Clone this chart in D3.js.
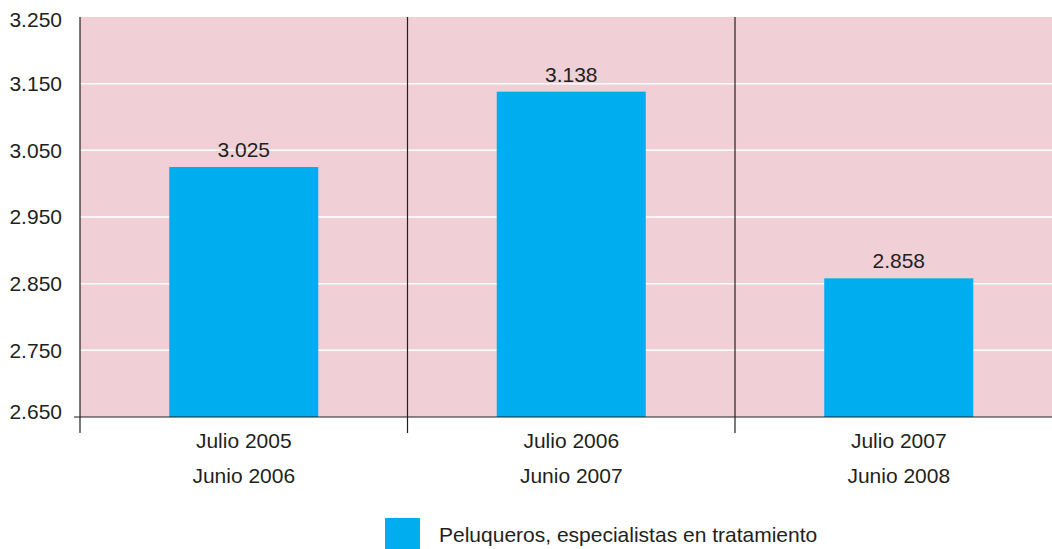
<!DOCTYPE html>
<html>
<head>
<meta charset="utf-8">
<script src="https://cdn.jsdelivr.net/npm/d3@7"></script>
<style>
  html, body { margin: 0; padding: 0; background: #fff; }
  svg { display: block; font-family: "Liberation Sans", Arial, Helvetica, sans-serif; }
</style>
</head>
<body>
<svg id="chart" width="1052" height="549"></svg>
<script>
// Periods (two-line labels) and values
const periodTop = ["Julio 2005", "Julio 2006", "Julio 2007"];
const periodBottom = ["Junio 2006", "Junio 2007", "Junio 2008"];
const values = [3025, 3138, 2858];
const yTicks = [2650, 2750, 2850, 2950, 3050, 3150, 3250];
const seriesName = "Peluqueros, especialistas en tratamiento";

(function () {
  const svg = d3.select("#chart");
  const plotLeft = 80, plotTop = 17, plotBottom = 417, bandStep = 327.5;
  const plotRight = plotLeft + bandStep * periodTop.length;
  const fontSize = 21;

  const es = d3.formatLocale({ decimal: ",", thousands: ".", grouping: [3], currency: ["", "€"] });
  const fmt = es.format(",.0f");

  const x = d3.scaleBand().domain(periodTop).range([plotLeft, plotRight]).padding(0);
  const y = d3.scaleLinear().domain([2650, 3250]).range([plotBottom, plotTop]);

  const ink = "#231f20";

  // plot background
  svg.append("rect")
    .attr("x", plotLeft).attr("y", plotTop)
    .attr("width", plotRight - plotLeft).attr("height", plotBottom - plotTop)
    .attr("fill", "#f0d0d6");

  // horizontal gridlines
  svg.append("g").selectAll("line")
    .data(yTicks.filter(t => t > 2650 && t < 3250))
    .join("line")
    .attr("x1", plotLeft).attr("x2", plotRight)
    .attr("y1", d => y(d)).attr("y2", d => y(d))
    .attr("stroke", "#fff").attr("stroke-width", 1.5);

  // bars
  const barW = x.bandwidth() * 0.455;
  svg.append("g").selectAll("rect")
    .data(values)
    .join("rect")
    .attr("x", (d, i) => x(periodTop[i]) + (x.bandwidth() - barW) / 2)
    .attr("y", d => y(d))
    .attr("width", barW)
    .attr("height", d => y(2650) - y(d))
    .attr("fill", "#00aeef");

  // value labels
  svg.append("g").selectAll("text")
    .data(values)
    .join("text")
    .attr("x", (d, i) => x(periodTop[i]) + x.bandwidth() / 2)
    .attr("y", d => y(d) - 10)
    .attr("text-anchor", "middle")
    .attr("font-size", fontSize)
    .attr("fill", ink)
    .text(d => fmt(d));

  // vertical dividers between periods
  svg.append("g").selectAll("line")
    .data(periodTop.slice(1))
    .join("line")
    .attr("x1", d => x(d)).attr("x2", d => x(d))
    .attr("y1", plotTop).attr("y2", plotBottom + 16)
    .attr("stroke", ink).attr("stroke-width", 1.2);

  // left axis line and lower tick
  svg.append("line")
    .attr("x1", plotLeft).attr("x2", plotLeft)
    .attr("y1", plotTop).attr("y2", plotBottom + 16)
    .attr("stroke", ink).attr("stroke-width", 1.2);

  // baseline
  svg.append("line")
    .attr("x1", plotLeft - 6).attr("x2", plotRight)
    .attr("y1", plotBottom).attr("y2", plotBottom)
    .attr("stroke", ink).attr("stroke-width", 1.2);

  // y tick labels (end labels kept inside the plot's vertical extent)
  svg.append("g").selectAll("text")
    .data(yTicks)
    .join("text")
    .attr("x", 62)
    .attr("y", d => Math.min(Math.max(y(d), plotTop + 3), plotBottom - 5))
    .attr("dy", "0.35em")
    .attr("text-anchor", "end")
    .attr("font-size", fontSize)
    .attr("fill", ink)
    .text(d => fmt(d));

  // x labels (two lines)
  const xl = svg.append("g").selectAll("g")
    .data(periodTop)
    .join("g")
    .attr("transform", d => `translate(${x(d) + x.bandwidth() / 2},0)`);
  xl.append("text")
    .attr("y", 448).attr("text-anchor", "middle")
    .attr("font-size", fontSize).attr("fill", ink)
    .text(d => d);
  xl.append("text")
    .attr("y", 483).attr("text-anchor", "middle")
    .attr("font-size", fontSize).attr("fill", ink)
    .text((d, i) => periodBottom[i]);

  // legend
  svg.append("rect")
    .attr("x", 385).attr("y", 518)
    .attr("width", 35).attr("height", 31)
    .attr("fill", "#00aeef");
  svg.append("text")
    .attr("x", 439).attr("y", 542)
    .attr("font-size", fontSize).attr("fill", ink)
    .text(seriesName);
})();
</script>
</body>
</html>
